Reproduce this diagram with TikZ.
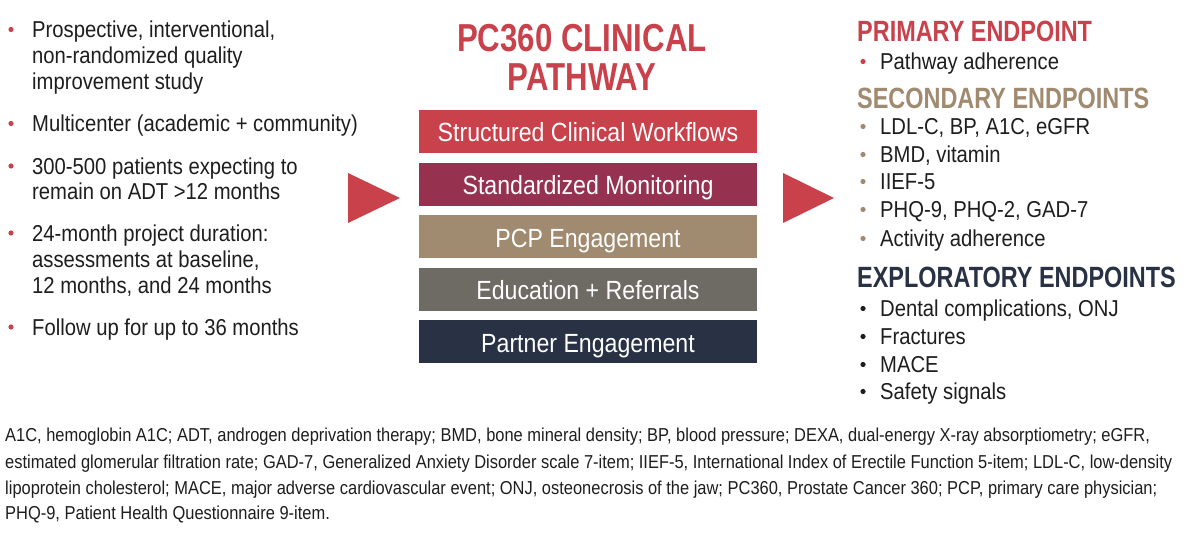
\documentclass[tikz,border=0pt]{standalone}
\usepackage{fontspec}
\setmainfont{Liberation Sans}
\newfontfamily\bodyfont[FakeStretch=0.88]{Liberation Sans}
\newfontfamily\headfont[FakeStretch=0.8]{Liberation Sans}
\definecolor{pcred}{HTML}{C8414B}
\definecolor{pcmaroon}{HTML}{963250}
\definecolor{pctan}{HTML}{A08A70}
\definecolor{pcgrey}{HTML}{6E6A64}
\definecolor{pcnavy}{HTML}{283244}
\definecolor{ink}{HTML}{1E1E1E}
\begin{document}
\begin{tikzpicture}[x=1pt,y=-1pt,
  txt/.style={anchor=base west, inner sep=0pt, text=ink, font=\bodyfont\fontsize{23}{27}\selectfont},
  fn/.style={anchor=base west, inner sep=0pt, text=ink, font=\bodyfont\fontsize{18.7}{22}\selectfont},
  head/.style={anchor=base west, inner sep=0pt, font=\headfont\bfseries\fontsize{29.3}{33}\selectfont},
  ttl/.style={anchor=base, inner sep=0pt, text=pcred, font=\headfont\bfseries\fontsize{39}{42}\selectfont},
  stepbox/.style={minimum width=338pt, minimum height=43pt, inner sep=0pt, text height=21pt, text depth=0pt,
     text=white, font=\bodyfont\fontsize{26.3}{30}\selectfont},
  arrowtri/.style={fill=pcred}
]
\useasboundingbox (0,0) rectangle (1200,534);
\fill[white] (0,0) rectangle (1200,534);

% left column
\foreach \y in {29.5,123.5,166,233,327}{\fill[pcred] (11,\y) circle (2.6pt);}
\node[txt] (l1) at (32,38) {Prospective, interventional,};
\node[txt] (l2) at (32,64) {non-randomized quality};
\node[txt] (l3) at (32,90) {improvement study};
\node[txt] (l4) at (32,132) {Multicenter (academic + community)};
\node[txt] (l5) at (32,174.5) {300-500 patients expecting to};
\node[txt] (l6) at (32,200) {remain on ADT >12 months};
\node[txt] (l7) at (32,241.5) {24-month project duration:};
\node[txt] (l8) at (32,267.5) {assessments at baseline,};
\node[txt] (l9) at (32,294) {12 months, and 24 months};
\node[txt] (l10) at (32,335.5) {Follow up for up to 36 months};

% arrows
\fill[arrowtri] (348,173) -- (400,198) -- (348,223) -- cycle;
\fill[arrowtri] (783,173) -- (834,198) -- (783,223) -- cycle;

% centre
\node[ttl] (t1) at (582,52) {PC360 CLINICAL};
\node[ttl] (t2) at (582,91) {PATHWAY};
\node[stepbox, fill=pcred] (b1) at (588,131.5) {Structured Clinical Workflows};
\node[stepbox, fill=pcmaroon] (b2) at (588,184.1) {Standardized Monitoring};
\node[stepbox, fill=pctan] (b3) at (588,236.7) {PCP Engagement};
\node[stepbox, fill=pcgrey] (b4) at (588,289.3) {Education + Referrals};
\node[stepbox, fill=pcnavy] (b5) at (588,341.9) {Partner Engagement};

% right column
\node[head, text=pcred] (h1) at (857,42) {PRIMARY ENDPOINT};
\fill[pcred] (863,61.5) circle (2.6pt);
\node[txt] (r1) at (880,70) {Pathway adherence};
\node[head, text=pctan] (h2) at (857,109) {SECONDARY ENDPOINTS};
\foreach \y in {126.5,154.5,181.5,209.5,238.5}{\fill[pctan] (863,\y) circle (2.6pt);}
\node[txt] (r2) at (880,135) {LDL-C, BP, A1C, eGFR};
\node[txt] (r3) at (880,163) {BMD, vitamin};
\node[txt] (r4) at (880,190) {IIEF-5};
\node[txt] (r5) at (880,218) {PHQ-9, PHQ-2, GAD-7};
\node[txt] (r6) at (880,247) {Activity adherence};
\node[head, text=pcnavy] (h3) at (857,288) {EXPLORATORY ENDPOINTS};
\foreach \y in {308.5,336.5,364.5,391.5}{\fill[ink] (863,\y) circle (2.6pt);}
\node[txt] (r7) at (880,317) {Dental complications, ONJ};
\node[txt] (r8) at (880,345) {Fractures};
\node[txt] (r9) at (880,373) {MACE};
\node[txt] (r10) at (880,400) {Safety signals};

% footnote
\node[fn] (f1) at (5,442) {A1C, hemoglobin A1C; ADT, androgen deprivation therapy; BMD, bone mineral density; BP, blood pressure; DEXA, dual-energy X-ray absorptiometry; eGFR,};
\node[fn] (f2) at (5,468) {estimated glomerular filtration rate; GAD-7, Generalized Anxiety Disorder scale 7-item; IIEF-5, International Index of Erectile Function 5-item; LDL-C, low-density};
\node[fn] (f3) at (5,494) {lipoprotein cholesterol; MACE, major adverse cardiovascular event; ONJ, osteonecrosis of the jaw; PC360, Prostate Cancer 360; PCP, primary care physician;};
\node[fn] (f4) at (5,519) {PHQ-9, Patient Health Questionnaire 9-item.};
\end{tikzpicture}
\end{document}
